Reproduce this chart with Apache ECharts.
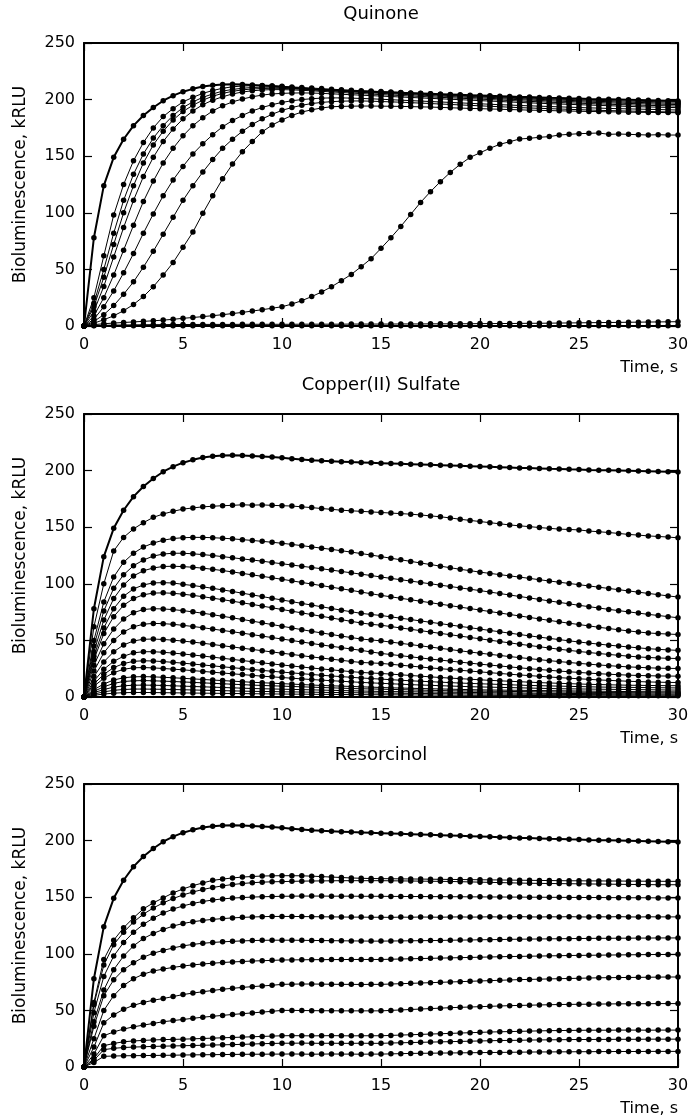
<!DOCTYPE html>
<html>
<head>
<meta charset="utf-8">
<script src="https://cdn.jsdelivr.net/npm/echarts@6/dist/echarts.min.js"></script>
<style>
  html, body { margin: 0; background: #fff; }
  #chart { width: 693px; height: 1115px; }
</style>
</head>
<body>
<div id="chart"></div>
<script>
// time axis, s (one reading every 0.5 s)
const TIME = [
  0, 0.5, 1, 1.5, 2, 2.5, 3, 3.5, 4, 4.5,
  5, 5.5, 6, 6.5, 7, 7.5, 8, 8.5, 9, 9.5,
  10, 10.5, 11, 11.5, 12, 12.5, 13, 13.5, 14, 14.5,
  15, 15.5, 16, 16.5, 17, 17.5, 18, 18.5, 19, 19.5,
  20, 20.5, 21, 21.5, 22, 22.5, 23, 23.5, 24, 24.5,
  25, 25.5, 26, 26.5, 27, 27.5, 28, 28.5, 29, 29.5,
  30
]

const Y_TICKS = [0, 50, 100, 150, 200, 250]
const X_TICKS = [0, 5, 10, 15, 20, 25, 30]

// control curve (no inhibitor), drawn thick in every panel
const control = [
  0, 78, 124, 149, 165, 177, 186, 193, 199, 203.5,
  207, 209.5, 211.5, 212.7, 213.3, 213.5, 213.4, 213, 212.5, 212,
  211.3, 210.5, 209.8, 209.2, 208.7, 208.3, 207.9, 207.5, 207.2, 206.9,
  206.6, 206.3, 206, 205.7, 205.4, 205.1, 204.8, 204.5, 204.2, 203.9,
  203.6, 203.3, 203, 202.7, 202.4, 202.2, 201.9, 201.6, 201.4, 201.1,
  200.9, 200.6, 200.4, 200.2, 200, 199.8, 199.6, 199.4, 199.2, 199,
  198.8
]

// ---- Quinone ----
const quinone2 = [
  0, 25, 62, 98, 125, 146, 162, 175, 185, 192,
  198, 202, 205.5, 208, 210, 211.3, 212, 212.3, 212.3, 212,
  211.7, 211.2, 210.7, 210.2, 209.7, 209.2, 208.7, 208.3, 207.9, 207.5,
  207.1, 206.7, 206.3, 205.9, 205.5, 205.1, 204.7, 204.3, 203.9, 203.5,
  203.1, 202.7, 202.3, 202, 201.6, 201.3, 201, 200.7, 200.4, 200.1,
  199.8, 199.6, 199.3, 199.1, 198.9, 198.7, 198.5, 198.3, 198.1, 198,
  197.9
]
const quinone3 = [
  0, 20, 50, 82, 111, 134, 152, 166, 177, 186,
  193, 198, 202, 205, 207.5, 209, 210, 210.7, 211, 211,
  210.8, 210.4, 210, 209.5, 209, 208.5, 208, 207.6, 207.2, 206.8,
  206.4, 206, 205.6, 205.2, 204.8, 204.4, 204, 203.6, 203.2, 202.8,
  202.4, 202, 201.6, 201.2, 200.9, 200.5, 200.2, 199.9, 199.6, 199.3,
  199, 198.7, 198.4, 198.2, 197.9, 197.7, 197.5, 197.3, 197.1, 196.9,
  196.8
]
const quinone4 = [
  0, 17, 43, 72, 100, 124, 144, 160, 172, 182,
  189.5, 195, 199.5, 203, 205.5, 207.3, 208.6, 209.4, 209.8, 210,
  209.9, 209.6, 209.2, 208.8, 208.3, 207.8, 207.3, 206.8, 206.4, 206,
  205.5, 205.1, 204.7, 204.3, 203.9, 203.5, 203.1, 202.7, 202.3, 201.9,
  201.5, 201.1, 200.7, 200.3, 199.9, 199.6, 199.2, 198.9, 198.6, 198.3,
  198, 197.7, 197.4, 197.1, 196.9, 196.6, 196.4, 196.2, 196, 195.8,
  195.6
]
const quinone5 = [
  0, 13, 35, 61, 87, 111, 132, 149, 163, 174,
  183, 190, 195.5, 199.5, 202.5, 205, 206.7, 207.8, 208.5, 208.8,
  208.8, 208.6, 208.2, 207.8, 207.3, 206.8, 206.3, 205.8, 205.3, 204.9,
  204.4, 204, 203.6, 203.2, 202.8, 202.4, 202, 201.6, 201.2, 200.8,
  200.4, 200, 199.6, 199.2, 198.8, 198.4, 198.1, 197.7, 197.4, 197.1,
  196.8, 196.5, 196.2, 195.9, 195.6, 195.4, 195.1, 194.9, 194.7, 194.5,
  194.3
]
const quinone6 = [
  0, 9, 25, 45, 67, 89, 110, 128, 144, 157,
  168, 177, 184, 190, 194.5, 198, 200.5, 202.5, 204, 205,
  205.5, 205.8, 205.9, 205.8, 205.5, 205.1, 204.7, 204.3, 203.9, 203.5,
  203.1, 202.7, 202.3, 201.9, 201.5, 201.1, 200.7, 200.3, 199.9, 199.5,
  199.1, 198.7, 198.3, 197.9, 197.5, 197.1, 196.8, 196.4, 196.1, 195.8,
  195.5, 195.2, 194.9, 194.6, 194.3, 194, 193.7, 193.5, 193.3, 193.1,
  192.9
]
const quinone7 = [
  0, 6, 17, 31, 47, 64, 82, 99, 115, 129,
  141, 152, 161, 169, 176, 181.5, 186, 190, 193, 195.5,
  197.5, 199, 200, 200.8, 201.3, 201.5, 201.5, 201.3, 201, 200.7,
  200.3, 199.9, 199.5, 199.1, 198.7, 198.3, 197.9, 197.5, 197.1, 196.7,
  196.3, 195.9, 195.5, 195.2, 194.8, 194.5, 194.2, 193.9, 193.6, 193.3,
  193, 192.7, 192.5, 192.2, 192, 191.8, 191.6, 191.4, 191.2, 191,
  190.8
]
const quinone8 = [
  0, 4, 10, 18, 28, 39, 52, 66, 81, 96,
  111, 124, 136, 147, 157, 165, 172, 178, 183, 187,
  190.5, 193, 195, 196.5, 197.5, 198.2, 198.6, 198.8, 198.8, 198.6,
  198.3, 198, 197.7, 197.3, 196.9, 196.5, 196.1, 195.7, 195.3, 194.9,
  194.5, 194.1, 193.7, 193.3, 192.9, 192.6, 192.3, 192, 191.7, 191.4,
  191.1, 190.8, 190.5, 190.3, 190.1, 189.9, 189.7, 189.5, 189.3, 189.1,
  189
]
const quinone9 = [
  0, 2.5, 5.5, 9, 13.5, 19, 26, 34.7, 45, 56,
  69.5, 83, 99.5, 115, 130, 143, 154, 163, 171.5, 177.5,
  182, 186, 189, 191, 192.6, 193.7, 194, 194.2, 194.3, 194.3,
  194.2, 194.1, 194, 193.8, 193.6, 193.4, 193.1, 192.8, 192.5, 192.2,
  192, 191.7, 191.5, 191.2, 191, 190.7, 190.5, 190.3, 190.1, 189.9,
  189.7, 189.5, 189.4, 189.2, 189.1, 188.9, 188.8, 188.7, 188.6, 188.5,
  188.4
]
const quinone10 = [
  0, 1.2, 2, 2.6, 3.1, 3.6, 4.1, 4.6, 5.2, 5.9,
  6.8, 7.5, 8.3, 9.1, 10, 11, 12, 13.2, 14.4, 15.7,
  17, 19.4, 22.4, 26, 30, 34.7, 40, 45.6, 52.4, 59.5,
  68.6, 78, 88, 98.6, 109.2, 118.7, 127.5, 135.7, 142.8, 149,
  153, 157, 160.5, 162.8, 165.2, 165.8, 166.7, 167.3, 168.7, 169.3,
  169.9, 170.2, 170.5, 169.3, 169.6, 169.3, 169, 168.7, 169, 168.7,
  168.7
]
const quinone11 = [
  0, 0.4, 0.6, 0.8, 0.9, 1, 1.1, 1.2, 1.2, 1.3,
  1.3, 1.3, 1.4, 1.4, 1.4, 1.4, 1.5, 1.5, 1.5, 1.5,
  1.5, 1.5, 1.6, 1.6, 1.6, 1.6, 1.6, 1.7, 1.7, 1.7,
  1.7, 1.7, 1.8, 1.8, 1.8, 1.9, 1.9, 1.9, 2, 2,
  2.1, 2.1, 2.2, 2.2, 2.3, 2.4, 2.4, 2.5, 2.6, 2.7,
  2.8, 2.9, 3, 3.1, 3.2, 3.3, 3.4, 3.5, 3.6, 3.7,
  3.8
]
const quinone12 = [
  0, 0.2, 0.3, 0.3, 0.3, 0.3, 0.4, 0.3, 0.3, 0.3,
  0.3, 0.3, 0.4, 0.3, 0.3, 0.3, 0.3, 0.3, 0.4, 0.3,
  0.3, 0.3, 0.3, 0.3, 0.4, 0.3, 0.3, 0.3, 0.3, 0.3,
  0.4, 0.3, 0.3, 0.3, 0.3, 0.3, 0.4, 0.3, 0.3, 0.3,
  0.3, 0.3, 0.4, 0.3, 0.3, 0.3, 0.3, 0.3, 0.4, 0.3,
  0.3, 0.3, 0.3, 0.3, 0.4, 0.3, 0.3, 0.3, 0.3, 0.3,
  0.4
]

// ---- Copper(II) Sulfate ----
const copper2 = [
  0, 62, 100, 129, 141, 148.5, 154, 158.7, 161.7, 164,
  166, 167, 168, 168.5, 169, 169.3, 169.8, 169.5, 169.7, 169.3,
  169, 168.7, 168, 167.3, 166.5, 165.8, 165, 164.5, 164, 163.5,
  163, 162.5, 162, 161.5, 160.8, 160, 159.2, 158.2, 157, 156,
  155, 154, 153, 152, 151.2, 150.5, 149.7, 149, 148.3, 148,
  147.6, 146.6, 146, 145.3, 144.5, 143.6, 143, 142.3, 141.8, 141.3,
  140.6
]
const copper3 = [
  0, 50, 84, 106, 119, 127, 132.5, 136, 138.5, 140,
  140.7, 141, 141, 140.7, 140.3, 139.7, 139, 138.3, 137.5, 136.7,
  135.8, 134.8, 133.7, 132.6, 131.5, 130.4, 129.2, 128, 126.7, 125.4,
  124, 122.6, 121.2, 119.8, 118.4, 117, 115.6, 114.2, 112.8, 111.6,
  110.3, 109.2, 108.1, 107, 105.9, 104.8, 103.6, 102.5, 101.4, 100.3,
  99.2, 98.1, 97, 95.9, 94.8, 93.7, 92.6, 91.5, 90.4, 89.3,
  88.3
]
const copper4 = [
  0, 45, 76, 96, 108, 116, 121, 124.5, 126.3, 127,
  127, 126.5, 125.8, 125, 124, 123, 122, 121, 120, 118.8,
  117.7, 116.6, 115.5, 114.4, 113.3, 112.1, 110.9, 109.7, 108.5, 107.3,
  106, 104.8, 103.6, 102.4, 101.2, 100, 98.8, 97.6, 96.4, 95.2,
  94, 92.7, 91.4, 90.1, 88.8, 87.5, 86.2, 84.9, 83.6, 82.3,
  81, 79.8, 78.6, 77.4, 76.3, 75.2, 74.1, 73, 72, 71,
  70
]
const copper5 = [
  0, 40, 68, 87, 99, 107, 111.5, 114, 115.3, 115.5,
  115.2, 114.6, 113.8, 112.8, 111.7, 110.5, 109.2, 107.9, 106.6, 105.3,
  104, 102.6, 101.2, 99.8, 98.4, 97, 95.6, 94.2, 92.7, 91.2,
  89.8, 88.5, 87.2, 85.9, 84.6, 83.3, 82, 80.7, 79.4, 78.1,
  76.8, 75.5, 74.2, 72.9, 71.6, 70.3, 69, 67.7, 66.4, 65.2,
  64, 62.8, 61.6, 60.5, 59.4, 58.4, 57.4, 56.6, 56, 55.6,
  55.2
]
const copper6 = [
  0, 36, 61, 78, 89, 95.5, 99, 100.8, 101, 100.7,
  99.5, 98.5, 97.3, 96, 94.6, 93.2, 91.7, 90.2, 88.7, 87.2,
  85.7, 84.2, 82.7, 81.2, 79.7, 78.2, 76.7, 75.3, 73.9, 72.9,
  72, 70.8, 69.6, 68.4, 67.2, 66, 64.8, 63.6, 62.4, 61.2,
  60, 58.8, 57.6, 56.4, 55.2, 54, 52.9, 51.8, 50.7, 49.6,
  48.6, 47.6, 46.7, 45.8, 45, 44.2, 43.4, 42.7, 42.1, 41.6,
  41.2
]
const copper7 = [
  0, 33, 56, 71, 81, 87, 90.3, 91.8, 92, 91.6,
  90.8, 89.8, 88.6, 87.3, 86, 84.6, 83.2, 81.8, 80.3, 78.8,
  77.3, 75.8, 74.3, 72.8, 71.3, 69.8, 68.3, 66.8, 65.4, 64.2,
  63.4, 62.2, 61, 59.8, 58.6, 57.4, 56.2, 55, 53.8, 52.6,
  51.4, 50.2, 49, 47.8, 46.6, 45.5, 44.4, 43.3, 42.2, 41.2,
  40.2, 39.3, 38.4, 37.6, 36.8, 36.1, 35.4, 34.9, 34.5, 34.2,
  34
]
const copper8 = [
  0, 28, 47, 60, 69, 74.5, 77.3, 78, 77.8, 77.2,
  76.3, 75.2, 74, 72.7, 71.3, 69.9, 68.5, 67, 65.5, 64,
  62.5, 61, 59.5, 58, 56.6, 55.2, 53.8, 52.5, 51.2, 50.4,
  49.6, 48.5, 47.4, 46.3, 45.2, 44.1, 43, 41.9, 40.8, 39.7,
  38.7, 37.7, 36.7, 35.7, 34.8, 33.9, 33, 32.1, 31.3, 30.5,
  29.7, 29, 28.3, 27.7, 27.1, 26.6, 26.2, 25.8, 25.5, 25.3,
  25.2
]
const copper9 = [
  0, 23, 39, 50, 57.5, 62, 64.3, 65, 64.8, 64.2,
  63.3, 62.3, 61.2, 60, 58.8, 57.6, 56.4, 55.1, 53.8, 52.5,
  51.2, 49.9, 48.6, 47.3, 46, 44.8, 43.6, 42.4, 41.2, 39.8,
  38.5, 37.5, 36.5, 35.5, 34.5, 33.5, 32.6, 31.7, 30.8, 29.9,
  29, 28.2, 27.4, 26.6, 25.8, 25, 24.3, 23.6, 22.9, 22.3,
  21.7, 21.1, 20.6, 20.1, 19.7, 19.3, 19, 18.8, 18.6, 18.5,
  18.4
]
const copper10 = [
  0, 18, 31, 40, 46, 49.5, 51, 51.2, 50.8, 50.2,
  49.4, 48.5, 47.5, 46.4, 45.3, 44.2, 43.1, 42, 40.9, 39.8,
  38.7, 37.6, 36.5, 35.4, 34.4, 33.4, 32.4, 31.4, 30.5, 30.1,
  29.7, 28.9, 28.1, 27.3, 26.5, 25.7, 25, 24.3, 23.6, 22.9,
  22.2, 21.5, 20.8, 20.1, 19.5, 18.9, 18.3, 17.7, 17.1, 16.6,
  16.1, 15.6, 15.1, 14.7, 14.3, 13.9, 13.6, 13.3, 13.1, 12.9,
  12.8
]
const copper11 = [
  0, 14, 24.5, 31.5, 36, 39, 40, 40, 39.5, 38.8,
  38, 37.1, 36.2, 35.2, 34.2, 33.2, 32.2, 31.2, 30.2, 29.2,
  28.3, 27.4, 26.5, 25.6, 24.8, 24, 23.2, 22.4, 21.7, 21.2,
  20.8, 20.2, 19.6, 19, 18.4, 17.8, 17.2, 16.7, 16.2, 15.7,
  15.2, 14.7, 14.3, 13.9, 13.5, 13.1, 12.7, 12.4, 12.1, 11.8,
  11.5, 11.2, 11, 10.8, 10.6, 10.4, 10.3, 10.2, 10.1, 10,
  10
]
const copper12 = [
  0, 11.5, 20, 26, 29.5, 31.5, 32, 31.8, 31.3, 30.6,
  29.9, 29.1, 28.3, 27.5, 26.7, 25.9, 25.1, 24.3, 23.5, 22.7,
  22, 21.3, 20.6, 19.9, 19.2, 18.6, 18, 17.4, 16.8, 16.3,
  15.8, 15.3, 14.8, 14.3, 13.9, 13.5, 13.1, 12.7, 12.3, 12,
  11.7, 11.4, 11.1, 10.8, 10.5, 10.2, 10, 9.8, 9.6, 9.4,
  9.2, 9, 8.8, 8.7, 8.6, 8.5, 8.4, 8.3, 8.2, 8.1,
  8
]
const copper13 = [
  0, 9.5, 16.5, 21.5, 24.5, 25.8, 26, 25.7, 25.2, 24.6,
  24, 23.3, 22.6, 21.9, 21.2, 20.5, 19.8, 19.1, 18.4, 17.8,
  17.2, 16.6, 16, 15.4, 14.9, 14.4, 13.9, 13.4, 12.9, 12.5,
  12.1, 11.7, 11.3, 10.9, 10.6, 10.3, 10, 9.7, 9.4, 9.1,
  8.9, 8.7, 8.5, 8.3, 8.1, 7.9, 7.7, 7.5, 7.3, 7.2,
  7.1, 7, 6.9, 6.8, 6.7, 6.6, 6.5, 6.4, 6.3, 6.2,
  6.1
]
const copper14 = [
  0, 6.5, 11.5, 15, 17, 17.8, 18, 17.8, 17.4, 17,
  16.5, 16, 15.5, 15, 14.5, 14, 13.5, 13, 12.6, 12.2,
  11.8, 11.4, 11, 10.6, 10.2, 9.9, 9.6, 9.3, 9, 8.7,
  8.4, 8.1, 7.9, 7.7, 7.5, 7.3, 7.1, 6.9, 6.7, 6.5,
  6.3, 6.2, 6.1, 6, 5.9, 5.8, 5.7, 5.6, 5.5, 5.4,
  5.3, 5.2, 5.1, 5, 4.9, 4.8, 4.7, 4.7, 4.6, 4.6,
  4.5
]
const copper15 = [
  0, 5, 9, 12, 13.7, 14.3, 14.5, 14.3, 14, 13.7,
  13.3, 12.9, 12.5, 12.1, 11.7, 11.3, 10.9, 10.5, 10.2, 9.9,
  9.6, 9.3, 9, 8.7, 8.4, 8.1, 7.8, 7.5, 7.3, 7.1,
  6.9, 6.7, 6.5, 6.3, 6.1, 5.9, 5.7, 5.5, 5.4, 5.3,
  5.2, 5.1, 5, 4.9, 4.8, 4.7, 4.6, 4.5, 4.4, 4.3,
  4.2, 4.1, 4, 3.9, 3.9, 3.8, 3.8, 3.7, 3.7, 3.6,
  3.6
]
const copper16 = [
  0, 3.8, 6.6, 8.7, 9.9, 10.4, 10.5, 10.4, 10.2, 9.9,
  9.6, 9.3, 9, 8.7, 8.4, 8.1, 7.8, 7.5, 7.3, 7.1,
  6.9, 6.7, 6.5, 6.3, 6.1, 5.9, 5.7, 5.5, 5.3, 5.1,
  4.9, 4.8, 4.7, 4.6, 4.5, 4.4, 4.3, 4.2, 4.1, 4,
  3.9, 3.8, 3.7, 3.6, 3.5, 3.4, 3.3, 3.2, 3.2, 3.1,
  3.1, 3, 3, 2.9, 2.9, 2.8, 2.8, 2.7, 2.7, 2.6,
  2.6
]
const copper17 = [
  0, 2.6, 4.5, 5.9, 6.6, 7, 7, 6.9, 6.8, 6.6,
  6.4, 6.2, 6, 5.8, 5.6, 5.4, 5.2, 5, 4.9, 4.8,
  4.6, 4.5, 4.4, 4.3, 4.1, 4, 3.9, 3.8, 3.7, 3.6,
  3.5, 3.4, 3.3, 3.2, 3.1, 3, 2.9, 2.9, 2.8, 2.8,
  2.7, 2.6, 2.6, 2.5, 2.5, 2.4, 2.4, 2.3, 2.3, 2.2,
  2.2, 2.1, 2.1, 2, 2, 1.9, 1.9, 1.8, 1.8, 1.8,
  1.7
]
const copper18 = [
  0, 1.5, 2.6, 3.4, 3.8, 4, 4, 3.9, 3.8, 3.7,
  3.6, 3.5, 3.4, 3.3, 3.2, 3.1, 3, 2.9, 2.8, 2.7,
  2.6, 2.5, 2.5, 2.4, 2.3, 2.3, 2.2, 2.1, 2.1, 2,
  2, 1.9, 1.9, 1.8, 1.8, 1.7, 1.7, 1.6, 1.6, 1.5,
  1.5, 1.5, 1.4, 1.4, 1.4, 1.3, 1.3, 1.3, 1.2, 1.2,
  1.2, 1.2, 1.1, 1.1, 1.1, 1.1, 1, 1, 1, 1,
  1
]

// ---- Resorcinol ----
const resorcinol2 = [
  0, 57, 95, 112, 123, 131.8, 139.7, 145, 149.4, 153.8,
  157.3, 160.2, 162.6, 164.9, 166, 167, 167.8, 168.3, 168.7, 168.9,
  169, 169, 168.9, 168.6, 168.2, 167.8, 167.4, 167, 166.7, 166.5,
  166.4, 166.3, 166.2, 166.1, 166, 165.9, 165.8, 165.7, 165.6, 165.5,
  165.4, 165.3, 165.2, 165.1, 165, 164.9, 164.8, 164.7, 164.6, 164.5,
  164.5, 164.4, 164.4, 164.3, 164.3, 164.2, 164.2, 164.1, 164.1, 164,
  164
]
const resorcinol3 = [
  0, 55, 90, 108, 119, 128, 135, 140.5, 145, 148.8,
  152, 154.6, 156.8, 158.6, 160, 161.2, 162.1, 162.8, 163.3, 163.6,
  163.8, 164, 164.2, 164.3, 164.4, 164.5, 164.6, 164.6, 164.6, 164.6,
  164.6, 164.5, 164.4, 164.3, 164.2, 164.1, 164, 163.9, 163.7, 163.5,
  163.3, 163.1, 162.9, 162.7, 162.5, 162.3, 162.2, 162.1, 162, 161.9,
  161.8, 161.7, 161.6, 161.5, 161.4, 161.3, 161.2, 161.1, 161, 161,
  161
]
const resorcinol4 = [
  0, 48, 80, 98, 110, 119, 126, 131.5, 136, 139.5,
  142.3, 144.5, 146.2, 147.5, 148.5, 149.2, 149.7, 150.1, 150.4, 150.6,
  150.8, 150.9, 151, 151, 151, 150.9, 150.9, 150.9, 150.8, 150.8,
  150.8, 150.7, 150.7, 150.6, 150.6, 150.5, 150.5, 150.4, 150.4, 150.3,
  150.3, 150.2, 150.2, 150.1, 150.1, 150, 150, 149.9, 149.9, 149.8,
  149.8, 149.7, 149.7, 149.6, 149.6, 149.5, 149.5, 149.5, 149.4, 149.4,
  149.4
]
const resorcinol5 = [
  0, 40, 68, 86, 98, 107, 113.5, 118, 121.5, 124.5,
  126.8, 128.3, 129.5, 130.4, 131.1, 131.7, 132.2, 132.5, 132.8, 133,
  133, 133, 132.9, 132.8, 132.7, 132.6, 132.5, 132.4, 132.4, 132.3,
  132.3, 132.2, 132.4, 132.3, 132.5, 132.4, 132.3, 132.5, 132.6, 132.4,
  132.5, 132.7, 132.5, 132.6, 132.8, 132.6, 132.5, 132.7, 132.6, 132.8,
  132.6, 132.5, 132.7, 132.6, 132.8, 132.6, 132.5, 132.7, 132.6, 132.6,
  132.6
]
const resorcinol6 = [
  0, 36, 63, 77, 86, 92, 97, 100.5, 103, 105.2,
  107, 108.3, 109.3, 110, 110.6, 111, 111.4, 111.7, 111.9, 112,
  112, 112, 111.9, 111.8, 111.7, 111.6, 111.5, 111.4, 111.3, 111.2,
  111.2, 111.3, 111.4, 111.5, 111.6, 111.7, 111.8, 112, 112.1, 112.2,
  112.4, 112.5, 112.6, 112.8, 112.9, 113, 113.1, 113.2, 113.3, 113.4,
  113.5, 113.6, 113.7, 113.7, 113.8, 113.8, 113.9, 113.9, 114, 114,
  114
]
const resorcinol7 = [
  0, 25, 50, 63, 72, 78, 82, 84.8, 86.5, 88,
  89.2, 90.2, 91, 91.7, 92.3, 92.8, 93.2, 93.6, 93.9, 94.2,
  94.5, 94.6, 94.7, 94.8, 94.8, 94.9, 94.9, 95, 95, 95,
  95, 95.2, 95.4, 95.6, 95.8, 96, 96.2, 96.4, 96.6, 96.8,
  97, 97.2, 97.4, 97.6, 97.7, 97.9, 98, 98.2, 98.3, 98.5,
  98.6, 98.7, 98.8, 98.9, 99, 99.1, 99.2, 99.3, 99.4, 99.4,
  99.5
]
const resorcinol8 = [
  0, 17.6, 39, 46, 51, 54.5, 57, 59, 60.5, 62.2,
  64, 65.3, 66.5, 67.6, 68.7, 69.5, 70.3, 71, 71.6, 72.2,
  73, 73.2, 73.3, 73.3, 73.2, 73.1, 73, 73, 72.9, 73,
  73, 73.3, 73.6, 73.9, 74.2, 74.5, 74.8, 75.1, 75.4, 75.7,
  76, 76.3, 76.6, 76.9, 77.2, 77.4, 77.6, 77.8, 78, 78.2,
  78.4, 78.6, 78.8, 78.9, 79, 79.1, 79.2, 79.3, 79.4, 79.5,
  79.5
]
const resorcinol9 = [
  0, 11.4, 27.6, 31, 33.5, 35.5, 37, 38.5, 40, 41,
  42, 43, 44, 44.8, 45.6, 46.4, 47.1, 47.8, 48.5, 49.2,
  50, 50, 49.9, 49.8, 49.7, 49.7, 49.6, 49.6, 49.6, 49.6,
  49.6, 50, 50.4, 50.8, 51.2, 51.6, 52, 52.4, 52.7, 53,
  53.3, 53.6, 53.9, 54.2, 54.4, 54.6, 54.8, 55, 55.2, 55.3,
  55.4, 55.5, 55.6, 55.7, 55.8, 55.8, 55.9, 55.9, 56, 56,
  56
]
const resorcinol10 = [
  0, 7.5, 18.8, 20.8, 22.3, 23, 23.5, 23.9, 24.2, 24.4,
  24.6, 24.9, 25.2, 25.5, 25.8, 26.1, 26.4, 26.7, 27, 27.3,
  27.6, 27.7, 27.6, 27.5, 27.6, 27.7, 27.6, 27.5, 27.6, 27.6,
  27.6, 27.9, 28.2, 28.5, 28.8, 29.1, 29.4, 29.7, 30, 30.3,
  30.6, 30.9, 31.1, 31.3, 31.5, 31.7, 31.9, 32.1, 32.2, 32.3,
  32.4, 32.5, 32.5, 32.5, 32.6, 32.6, 32.6, 32.5, 32.6, 32.6,
  32.6
]
const resorcinol11 = [
  0, 6, 15.3, 16.5, 17.2, 17.6, 17.9, 18.2, 18.4, 18.6,
  18.8, 19, 19.2, 19.4, 19.6, 19.8, 20, 20.3, 20.6, 20.8,
  21, 21, 21.1, 21, 20.9, 21, 20.9, 20.9, 21, 20.9,
  20.9, 21.2, 21.4, 21.6, 21.8, 22, 22.2, 22.4, 22.6, 22.8,
  23, 23.2, 23.4, 23.5, 23.6, 23.8, 23.9, 24, 24.1, 24.2,
  24.3, 24.3, 24.4, 24.4, 24.5, 24.5, 24.5, 24.6, 24.6, 24.6,
  24.6
]
const resorcinol12 = [
  0, 4, 9.4, 9.7, 9.9, 10, 10.1, 10.2, 10.3, 10.4,
  10.6, 10.7, 10.8, 10.9, 11, 11.1, 11.2, 11.3, 11.3, 11.4,
  11.4, 11.5, 11.4, 11.3, 11.4, 11.5, 11.4, 11.4, 11.3, 11.4,
  11.4, 11.6, 11.8, 12, 12.1, 12.2, 12.3, 12.4, 12.5, 12.6,
  12.7, 12.8, 12.9, 13, 13.1, 13.2, 13.3, 13.3, 13.4, 13.4,
  13.5, 13.5, 13.6, 13.6, 13.7, 13.7, 13.7, 13.8, 13.8, 13.8,
  13.8
]

const quinoneSeries = [quinone2, quinone3, quinone4, quinone5, quinone6, quinone7,
  quinone8, quinone9, quinone10, quinone11, quinone12]
const copperSeries = [copper2, copper3, copper4, copper5, copper6, copper7, copper8,
  copper9, copper10, copper11, copper12, copper13, copper14, copper15, copper16,
  copper17, copper18]
const resorcinolSeries = [resorcinol2, resorcinol3, resorcinol4, resorcinol5,
  resorcinol6, resorcinol7, resorcinol8, resorcinol9, resorcinol10, resorcinol11,
  resorcinol12]

const PANEL_TITLES = ['Quinone', 'Copper(II) Sulfate', 'Resorcinol']
const PANEL_SERIES = [quinoneSeries, copperSeries, resorcinolSeries]

// layout (px)
const FONT = 'DejaVu Sans'
const PLOT_LEFT = 84
const PLOT_WIDTH = 594
const PLOT_HEIGHT = 283
const PLOT_TOPS = [43, 414, 784]
const INK = '#000'

const chart = echarts.init(document.getElementById('chart'), null, { renderer: 'canvas' })

const grids = []
const xAxes = []
const yAxes = []
const series = []
const titles = []

function frameAxis(extra) {
  return Object.assign({
    axisLine: { show: true, onZero: false, lineStyle: { color: INK, width: 2 } },
    axisTick: { show: true, inside: true, length: 8, lineStyle: { color: INK, width: 1.2 } },
    splitLine: { show: false },
  }, extra)
}

function toPoints(values) {
  return TIME.map((t, i) => [t, values[i]])
}

PANEL_TITLES.forEach((name, p) => {
  const top = PLOT_TOPS[p]
  grids.push({ left: PLOT_LEFT, top: top, width: PLOT_WIDTH, height: PLOT_HEIGHT })

  const xBase = { gridIndex: p, type: 'value', min: X_TICKS[0], max: X_TICKS[X_TICKS.length - 1], interval: 5 }
  const yBase = { gridIndex: p, type: 'value', min: Y_TICKS[0], max: Y_TICKS[Y_TICKS.length - 1], interval: 50 }

  xAxes.push(frameAxis(Object.assign({}, xBase, {
    position: 'bottom',
    axisLabel: { color: INK, fontFamily: FONT, fontSize: 16, margin: 11 },
  })))
  xAxes.push(frameAxis(Object.assign({}, xBase, {
    position: 'top',
    axisLabel: { show: false },
  })))
  yAxes.push(frameAxis(Object.assign({}, yBase, {
    position: 'left',
    name: 'Bioluminescence, kRLU',
    nameLocation: 'middle',
    nameRotate: 90,
    nameGap: 55,
    nameTextStyle: { color: INK, fontFamily: FONT, fontSize: 17 },
    axisLabel: { color: INK, fontFamily: FONT, fontSize: 16, margin: 9 },
  })))
  yAxes.push(frameAxis(Object.assign({}, yBase, {
    position: 'right',
    axisLabel: { show: false },
  })))

  titles.push({
    text: name, left: PLOT_LEFT + PLOT_WIDTH / 2, top: top - 38, textAlign: 'center', padding: 0,
    textStyle: { color: INK, fontFamily: FONT, fontSize: 18, fontWeight: 'normal' },
  })
  titles.push({
    text: 'Time, s', left: PLOT_LEFT + PLOT_WIDTH, top: top + PLOT_HEIGHT + 34, textAlign: 'right', padding: 0,
    textStyle: { color: INK, fontFamily: FONT, fontSize: 16, fontWeight: 'normal' },
  })

  const lines = [control].concat(PANEL_SERIES[p])
  lines.forEach((values, k) => {
    series.push({
      type: 'line',
      xAxisIndex: p * 2,
      yAxisIndex: p * 2,
      data: toPoints(values),
      symbol: 'circle',
      symbolSize: 5.5,
      showSymbol: true,
      color: INK,
      itemStyle: { color: INK },
      lineStyle: { color: INK, width: k === 0 ? 2 : 1 },
      silent: true,
      z: k === 0 ? 3 : 2,
    })
  })
})

chart.setOption({
  animation: false,
  backgroundColor: '#fff',
  title: titles,
  grid: grids,
  xAxis: xAxes,
  yAxis: yAxes,
  series: series,
})
</script>
</body>
</html>
